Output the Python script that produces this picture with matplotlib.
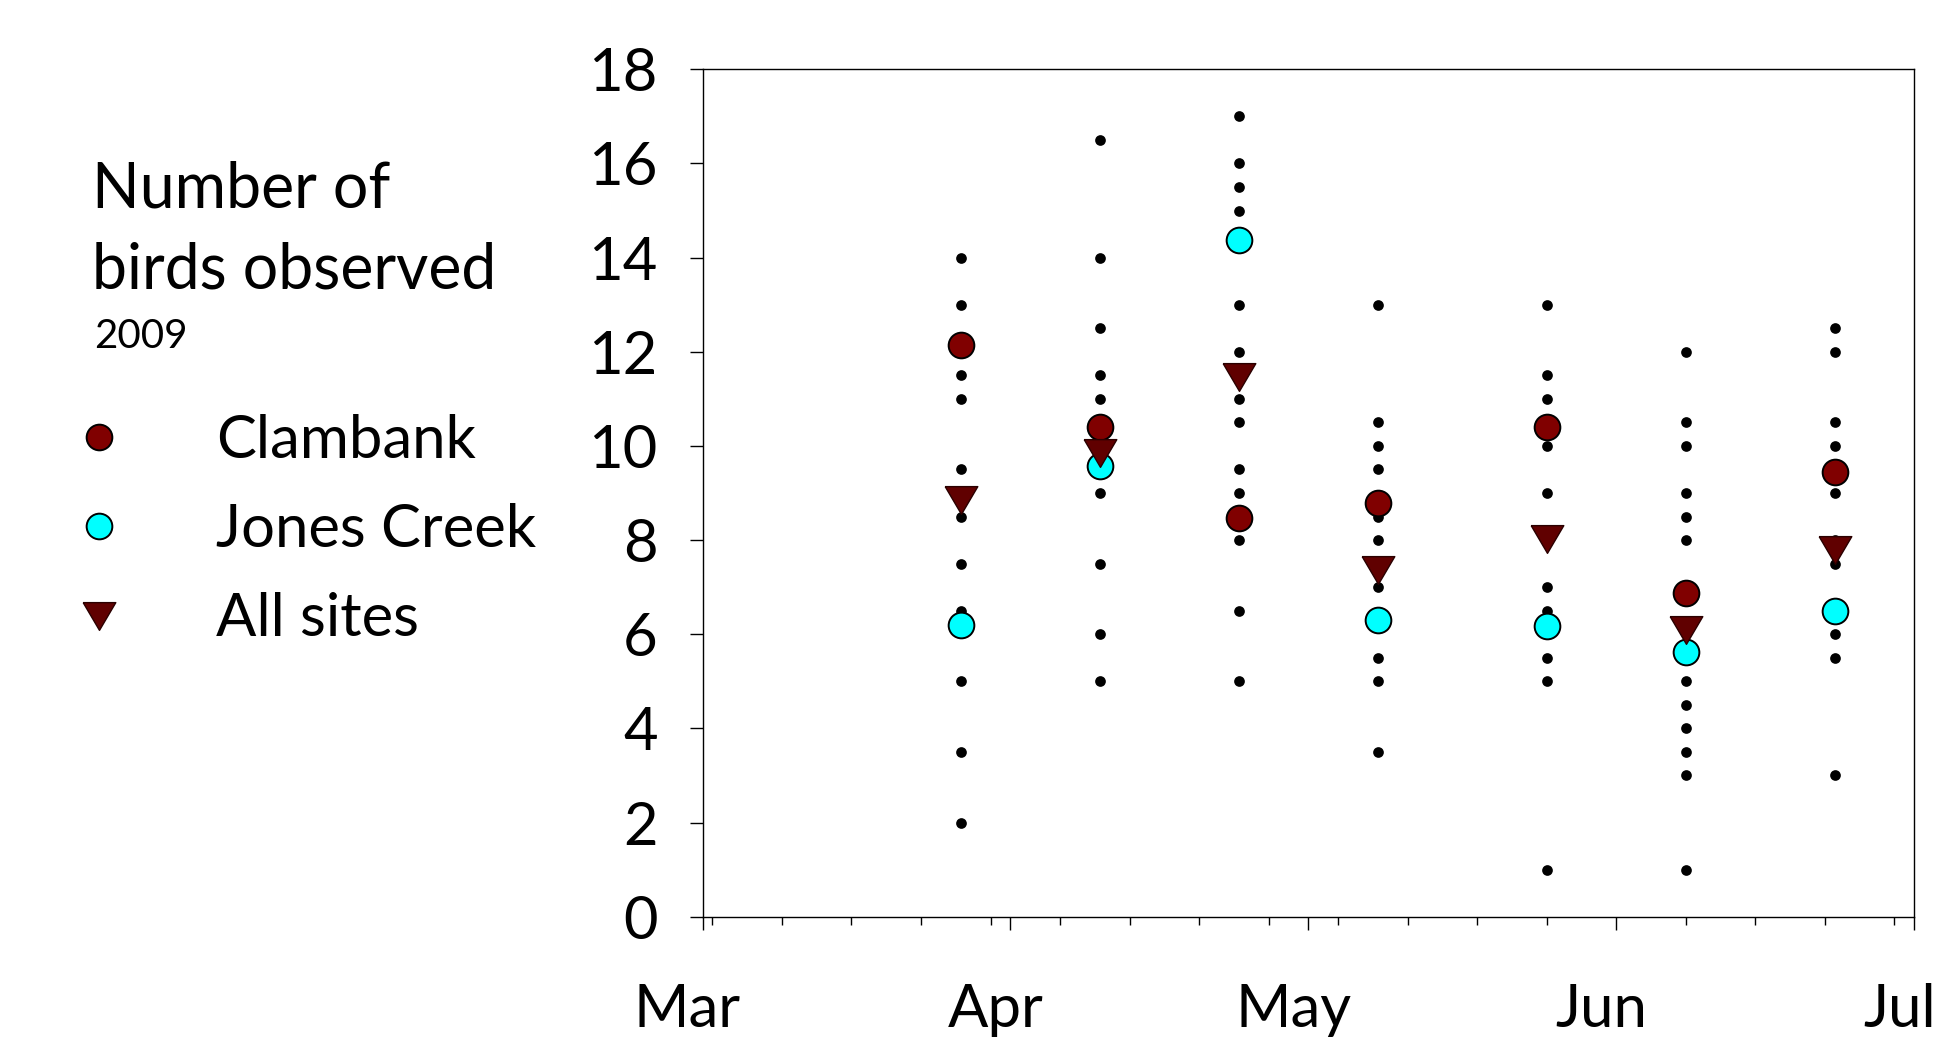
import matplotlib
matplotlib.use('Agg')
import matplotlib.pyplot as plt
import matplotlib.dates as mdates
from matplotlib.transforms import ScaledTranslation
import datetime as dt
import numpy as np

plt.rcParams['font.family'] = ['Lato', 'DejaVu Sans']

# ---- data ----
survey_dates = ['2009-03-27', '2009-04-10', '2009-04-24', '2009-05-08',
                '2009-05-25', '2009-06-08', '2009-06-23']
clambank = [12.15, 10.40, 8.47, 8.78, 10.40, 6.87, 9.45]
jones_creek = [6.20, 9.58, 14.37, 6.30, 6.18, 5.62, 6.50]
all_sites = [8.86, 9.85, 11.47, 7.36, 8.03, 6.10, 7.79]

counts_mar27 = [14, 13, 11.5, 11, 9.5, 8.5, 7.5, 6.5, 5, 3.5, 2]
counts_apr10 = [16.5, 14, 12.5, 11.5, 11, 9, 7.5, 6, 5]
counts_apr24 = [17, 16, 15.5, 15, 13, 12, 11, 10.5, 9.5, 9, 8, 6.5, 5]
counts_may08 = [13, 10.5, 10, 9.5, 8.5, 8, 7, 5.5, 5, 3.5]
counts_may25 = [13, 11.5, 11, 10, 9, 7, 6.5, 5.5, 5, 1]
counts_jun08 = [12, 10.5, 10, 9, 8.5, 8, 5, 4.5, 4, 3.5, 3, 1]
counts_jun23 = [12.5, 12, 10.5, 10, 9, 8, 7.5, 6, 5.5, 3]
site_counts = [counts_mar27, counts_apr10, counts_apr24, counts_may08,
               counts_may25, counts_jun08, counts_jun23]

y_ticks = [0, 2, 4, 6, 8, 10, 12, 14, 16, 18]
series_labels = ['Clambank', 'Jones Creek', 'All sites']

dates = [dt.datetime.strptime(s, '%Y-%m-%d') for s in survey_dates]

W, H = 1951, 1045
fig = plt.figure(figsize=(W / 100, H / 100), dpi=100)
ax = fig.add_axes([702.5 / W, 1 - 916.7 / H, (1914.3 - 702.5) / W, (916.7 - 69.3) / H])

for d, vals in zip(dates, site_counts):
    ax.plot([d] * len(vals), vals, ls='none', marker='o', ms=7.7, mew=0,
            color='black', zorder=2)

tri = [(-1, 0.85), (1, 0.85), (0, -0.85), (-1, 0.85)]
h1, = ax.plot(dates, clambank, ls='none', marker='o', ms=18.5, mfc='#800000',
              mec='black', mew=1.4, zorder=4, label=series_labels[0])
h2, = ax.plot(dates, jones_creek, ls='none', marker='o', ms=18.5, mfc='#00FFFF',
              mec='black', mew=1.4, zorder=4, label=series_labels[1])
h3, = ax.plot(dates, all_sites, ls='none', marker=tri, ms=23.5, mfc='#600000',
              mec='#2a0000', mew=1.0, zorder=5, label=series_labels[2])

ax.set_xlim(dt.datetime(2009, 3, 1), dt.datetime(2009, 7, 1))
ax.set_ylim(0, 18)
ax.set_yticks(y_ticks)
ax.xaxis.set_major_locator(mdates.MonthLocator())
ax.xaxis.set_minor_locator(mdates.WeekdayLocator(byweekday=mdates.MO))
ax.xaxis.set_major_formatter(mdates.DateFormatter('%b'))

for sp in ax.spines.values():
    sp.set_linewidth(1.0)
    sp.set_color('black')

ax.tick_params(axis='x', which='major', direction='out', length=9.4, width=1.0,
               pad=38, labelsize=43)
ax.tick_params(axis='x', which='minor', direction='out', length=5.8, width=1.0)
ax.tick_params(axis='y', which='major', direction='out', length=9.4, width=1.0,
               pad=23, labelsize=43)

off = ScaledTranslation(-15 / 100, 0, fig.dpi_scale_trans)
for lab in ax.get_xticklabels():
    lab.set_transform(lab.get_transform() + off)

# legend title
fig.text(92 / W, 1 - 207 / H, 'Number of', fontsize=45, va='baseline', ha='left')
fig.text(92 / W, 1 - 288.6 / H, 'birds observed', fontsize=45, va='baseline', ha='left')
fig.text(94 / W, 1 - 347.5 / H, '2009', fontsize=29, va='baseline', ha='left')

fig.legend(handles=[h1, h2, h3], labels=series_labels, loc='upper left',
           bbox_to_anchor=(69 / W, 1 - 414 / H), bbox_transform=fig.transFigure,
           frameon=False, borderpad=0, borderaxespad=0, handlelength=1.0,
           handletextpad=1.46, labelspacing=0.59, fontsize=43, numpoints=1)

fig.savefig('out.png', dpi=100)
